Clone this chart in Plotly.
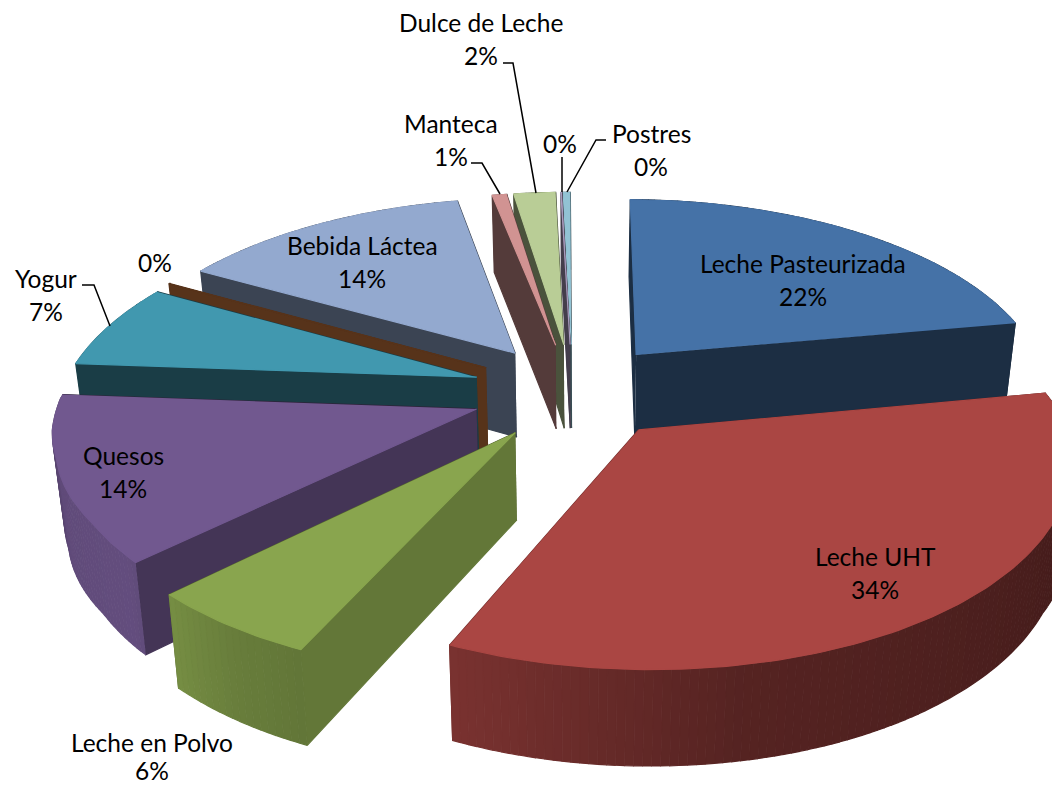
import numpy as np
import plotly.graph_objects as go

# ---- data ----
categories = ["Leche Pasteurizada", "Leche UHT", "Leche en Polvo", "Quesos", "Yogur", "Otros",
              "Bebida Láctea", "Manteca", "Dulce de Leche", "Otros 2", "Postres"]
values = [22.0, 34.2, 5.5, 14.3, 6.9, 0.05, 13.7, 0.7, 2.0, 0.05, 0.35]
percent_labels = ["22%", "34%", "6%", "14%", "7%", "0%", "14%", "1%", "2%", "0%", "0%"]
top_colors = ["#4572A7", "#AA4643", "#89A54E", "#71588F", "#4198AF", "#57331A",
              "#93A9CF", "#D19392", "#B9CD96", "#A99BBD", "#92C3D4"]
wall_override = {5: "#57331A"}
# drawn from the back of the scene to the front
draw_order = [6, 10, 9, 8, 7, 0, 5, 4, 3, 2, 1]

name_pos = {0: (803, 263), 1: (875, 556), 2: (152, 742), 3: (123, 455), 4: (46, 278),
            6: (362, 245), 7: (451, 123), 8: (481, 22), 10: (651, 133)}
pct_pos = {0: (803, 296), 1: (875, 589), 2: (152, 770), 3: (123, 488), 4: (46, 311), 5: (155, 262),
           6: (362, 278), 7: (451, 156), 8: (481, 55), 9: (560, 143), 10: (651, 166)}
leaders = [[(82, 285), (94, 285), (110, 326)],
           [(471, 163), (482, 163), (500, 194)],
           [(503, 63), (513, 63), (536, 193)],
           [(562, 157), (562, 192)],
           [(606, 140), (596, 140), (567, 192)]]

# ---- projection of the tilted, exploded pie ----
VX, VY, H, D, THICK = 580.0, -635.0, 990.0, 2150.0, 84.0
RADIUS, EXPLODE = 400.0, 98.0
OX, OD = -7.0, -75.0
START_ANGLE = 0.5
BOTTOM_TAPER = 0.977


def project(x, d, bottom=False):
    x = np.asarray(x, float)
    d = np.asarray(d, float)
    # the near side of the picture is foreshortened a little more than a true perspective
    nd = np.interp(d, [-1345, -345, -150, 1000], [-1312, -312, -150, 1000])
    # and the far-left bulge is slightly pulled in
    weight = np.clip((-90 - d) / 130, 0, 1)
    x = x + np.clip(-x - 350, 0, None) * 0.08 * weight
    s = 1.0 / (1.0 + nd / D)
    sx = VX + x * s
    sy = VY + H * s
    if bottom:
        sx = VX + x * s * BOTTOM_TAPER
        sy = sy + THICK * np.sqrt(s)
    return sx, sy


def shade(color, f):
    c = [int(color[i:i + 2], 16) for i in (1, 3, 5)]
    return "#%02x%02x%02x" % tuple(int(round(v * f)) for v in c)


def poly(fig, xs, ys, color):
    fig.add_trace(go.Scatter(x=list(xs), y=list(ys), mode="lines", fill="toself", fillcolor=color,
                             line=dict(color=color, width=1.2), hoverinfo="skip", showlegend=False))


def outer_shade(a):
    return float(np.interp(a % 360, [0, 110, 170, 200, 212, 225, 250, 275, 360],
                           [0.4, 0.4, 0.5, 0.7, 0.76, 0.88, 0.85, 0.6, 0.4]))


def radial_shade(a):
    return float(np.interp(a % 360, [0, 190, 201, 223, 273, 360], [0.4, 0.4, 0.73, 0.6, 0.4, 0.4]))


fig = go.Figure()
edges = START_ANGLE + np.concatenate([[0.0], np.cumsum(values)]) * 3.6

for i in draw_order:
    a0, a1 = edges[i], edges[i + 1]
    mid = np.radians((a0 + a1) / 2)
    ax = OX + EXPLODE * np.sin(mid)
    ad = OD + EXPLODE * np.cos(mid)
    n = max(2, int(a1 - a0) + 1)
    angs = np.linspace(a0, a1, n)
    rad = np.radians(angs)
    ex = ax + RADIUS * np.sin(rad)
    ed = ad + RADIUS * np.cos(rad)
    color = top_colors[i]
    faces = []
    for k, ang in ((0, a0), (-1, a1)):
        tx, ty = project([ax, ex[k]], [ad, ed[k]])
        bx, by = project([ax, ex[k]], [ad, ed[k]], True)
        wall = wall_override.get(i, shade(color, radial_shade(ang)))
        faces.append(((ad + ed[k]) / 2, [tx[0], tx[1], bx[1], bx[0]], [ty[0], ty[1], by[1], by[0]], wall))
    for k in range(n - 1):
        tx, ty = project(ex[k:k + 2], ed[k:k + 2])
        bx, by = project(ex[k:k + 2], ed[k:k + 2], True)
        wall = shade(color, outer_shade((angs[k] + angs[k + 1]) / 2))
        faces.append(((ed[k] + ed[k + 1]) / 2, [tx[0], tx[1], bx[1], bx[0]], [ty[0], ty[1], by[1], by[0]], wall))
    for _, fx, fy, wall in sorted(faces, key=lambda f: -f[0]):
        poly(fig, fx, fy, wall)
    tx, ty = project(np.r_[ax, ex], np.r_[ad, ed])
    poly(fig, tx, ty, color)

for pts in leaders:
    fig.add_trace(go.Scatter(x=[p[0] for p in pts], y=[p[1] for p in pts], mode="lines",
                             line=dict(color="black", width=1.5), hoverinfo="skip", showlegend=False))

FONT = dict(family="Lato, Carlito, sans-serif", size=24.5, color="black")
for i, (x, y) in name_pos.items():
    fig.add_annotation(x=x, y=y, text=categories[i], showarrow=False, font=FONT)
for i, (x, y) in pct_pos.items():
    fig.add_annotation(x=x, y=y, text=percent_labels[i], showarrow=False, font=FONT)

fig.update_xaxes(range=[0, 1052], visible=False, fixedrange=True)
fig.update_yaxes(range=[786, 0], visible=False, fixedrange=True)
fig.update_layout(width=1052, height=786, margin=dict(l=0, r=0, t=0, b=0),
                  paper_bgcolor="white", plot_bgcolor="white", showlegend=False)
fig.write_html("out.html", config={"displayModeBar": False},
               post_script="document.body.style.margin='0';document.body.style.overflow='hidden';")
